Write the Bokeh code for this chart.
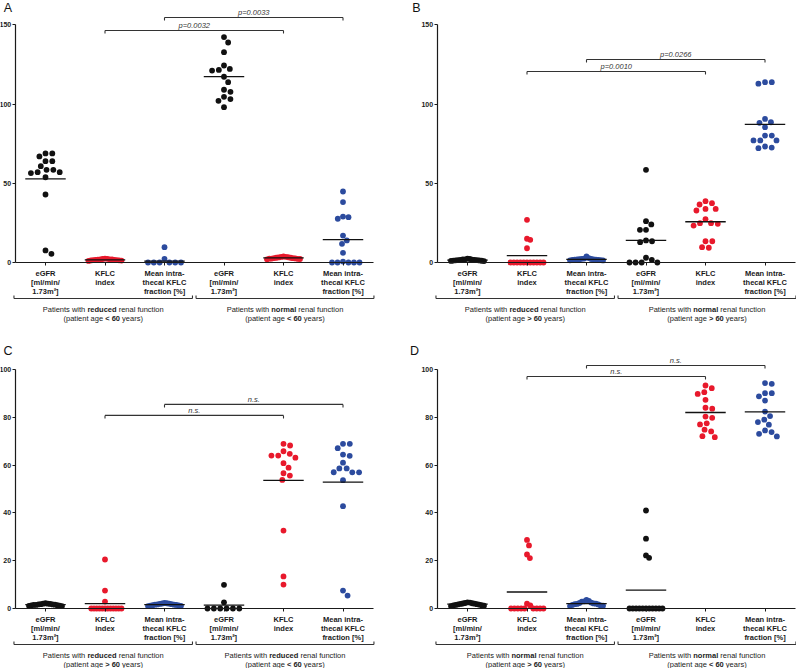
import math
from bokeh.plotting import figure
from bokeh.models import LinearAxis, FixedTicker, Range1d, ColumnDataSource
from bokeh.layouts import column, row
from bokeh.core.properties import value
from bokeh.embed import file_html
from bokeh.resources import INLINE

# ---------------- data ----------------
CATEGORY_LABELS = ["eGFR\n[ml/min/\n1.73m²]", "KFLC\nindex", "Mean intra-\nthecal KFLC\nfraction [%]"] * 2

# Panel A
A_egfr_1 = [68.8, 68.8, 66.9, 63.9, 63.9, 60.8, 58.5, 58.5, 57.0, 57.0, 56.4, 53.8, 42.9, 7.6, 5.5]
A_kflc_1 = [2.5, 2.3, 2.2, 2.0, 2.0, 1.9, 1.8, 1.7, 1.6, 1.5, 1.5, 1.4, 1.3, 1.2, 1.0]
A_frac_1 = [9.7, 2.3, 0, 0, 0, 0, 0, 0]
A_egfr_2 = [142.2, 138.8, 132.7, 124.3, 122.1, 121.5, 121.1, 117.2, 113.8, 109.0, 107.7, 104.5, 103.1, 102.0, 98.0]
A_kflc_2 = [3.8, 3.6, 3.5, 3.3, 3.2, 3.0, 3.0, 2.8, 2.7, 2.6, 2.5, 2.4, 2.3, 2.2, 2.0]
A_frac_2 = [44.8, 38.1, 29.0, 28.6, 27.6, 17.0, 13.9, 11.8, 6.1, 0.6, 0, 0, 0, 0, 0]
A_means = [52.7, 1.7, 0.9, 117.3, 2.9, 14.4]
A_groups = [("reduced", "< 60"), ("normal", "< 60")]
A_ptext = ["p=0.0032", "p=0.0033"]
A_py = [146.4, 154.6]

# Panel B
B_egfr_1 = [2.5, 2.2, 2.0, 1.9, 1.8, 1.7, 1.6, 1.5, 1.5, 1.4, 1.3, 1.2, 1.1, 1.0, 0.9]
B_kflc_1 = [26.9, 15.0, 14.3, 9.0, 0, 0, 0, 0, 0, 0, 0, 0, 0, 0, 0]
B_frac_1 = [3.8, 2.8, 2.5, 2.3, 2.2, 2.1, 2.0, 1.9, 1.8, 1.8, 1.7, 1.6, 1.5, 1.4, 1.3]
B_egfr_2 = [58.5, 26.1, 24.0, 20.6, 20.6, 13.9, 13.4, 12.8, 3.0, 1.7, 0, 0, 0, 0]
B_kflc_2 = [38.7, 37.4, 36.6, 33.8, 33.8, 32.8, 27.3, 24.8, 24.8, 24.4, 23.3, 13.4, 13.4, 9.7, 9.3]
B_frac_2 = [113.8, 113.8, 112.8, 90.6, 88.5, 88.1, 85.4, 80.1, 80.1, 77.0, 77.0, 77.0, 73.2, 72.5, 72.1]
B_means = [1.5, 4.4, 2.0, 13.9, 25.7, 87.1]
B_groups = [("reduced", "> 60"), ("normal", "> 60")]
B_ptext = ["p=0.0010", "p=0.0266"]
B_py = [120.5, 128.1]

# Panel C
C_egfr_1 = [2.2, 2.0, 2.0, 1.9, 1.8, 1.7, 1.7, 1.6, 1.5, 1.5, 1.4, 1.3, 1.2, 1.1, 1.0]
C_kflc_1 = [20.5, 7.5, 2.9, 0, 0, 0, 0, 0, 0, 0, 0, 0, 0, 0, 0]
C_frac_1 = [2.3, 2.2, 2.1, 2.0, 1.9, 1.8, 1.7, 1.6, 1.6, 1.5, 1.4, 1.3, 1.2, 1.1, 1.0]
C_egfr_2 = [9.9, 2.6, 0, 0, 0, 0, 0, 0]
C_kflc_2 = [68.9, 68.2, 65.8, 64.7, 64.0, 64.0, 63.1, 60.8, 58.9, 56.6, 55.6, 53.8, 32.6, 13.4, 10.0]
C_frac_2 = [68.9, 68.9, 67.1, 64.4, 63.9, 61.0, 58.6, 58.6, 57.0, 57.0, 57.0, 53.7, 42.8, 7.5, 5.4]
C_means = [1.6, 2.0, 1.6, 1.4, 53.6, 52.9]
C_groups = [("reduced", "> 60"), ("reduced", "< 60")]
C_ptext = ["n.s.", "n.s."]
C_py = [80.8, 85.4]

# Panel D
D_egfr_1 = [2.6, 2.5, 2.3, 2.2, 2.1, 2.0, 1.9, 1.8, 1.7, 1.6, 1.5, 1.4, 1.3, 1.2, 1.0]
D_kflc_1 = [28.7, 26.4, 22.6, 21.1, 2.0, 1.3, 0, 0, 0, 0, 0, 0, 0, 0, 0]
D_frac_1 = [3.6, 3.2, 3.0, 2.9, 2.5, 2.3, 2.1, 2.0, 1.9, 1.8, 1.7, 1.5, 1.3, 1.2, 1.0]
D_egfr_2 = [41.0, 29.2, 22.2, 21.2, 0, 0, 0, 0, 0, 0, 0, 0, 0, 0, 0]
D_kflc_2 = [93.3, 92.2, 90.5, 89.8, 87.3, 84.0, 83.6, 80.3, 79.8, 77.5, 77.0, 74.8, 74.1, 72.1, 71.7]
D_frac_2 = [94.3, 94.0, 90.1, 90.1, 88.8, 87.0, 82.4, 80.5, 79.0, 78.0, 76.9, 74.5, 73.8, 73.1, 72.0]
D_means = [1.8, 6.9, 2.0, 7.7, 82.0, 82.3]
D_groups = [("normal", "> 60"), ("normal", "< 60")]
D_ptext = ["n.s.", "n.s."]
D_py = [97.1, 101.7]

TICKS_AB = [0, 50, 100, 150]
TICKS_CD = [0, 20, 40, 60, 80, 100]

# ---------------- style ----------------
FONT = "Liberation Sans"
INK = "#1a1a1a"
COLS = ["#111111", "#e8192c", "#2c4b9e"] * 2
FS = 7.5
XSP = 59.5          # px per category
DOT = 5.8
SWARM_D = 6.8
SWARM_CAP = 16.5
AX0, AX1 = 0.49, 6.52

REG = {' ': 278, '(': 333, ')': 333, 'P': 667, 'a': 556, 'c': 500, 'e': 556, 'f': 278, 'g': 556,
       'h': 556, 'i': 222, 'l': 222, 'n': 556, 'o': 556, 'p': 556, 'r': 333, 's': 500, 't': 278,
       'u': 556, 'w': 722, 'y': 500}
BOLD = {' ': 278, '<': 584, '>': 584, '0': 556, '6': 556, 'a': 556, 'c': 556, 'd': 611, 'e': 556,
        'l': 278, 'm': 889, 'n': 611, 'o': 611, 'r': 389, 'u': 611}


def tw(s, table):
    return sum(table.get(ch, 556) for ch in s) * FS / 1000.0


def swarm(vals, ppu):
    order = sorted(range(len(vals)), key=lambda i: -vals[i])
    placed = []
    xs = [0.0] * len(vals)
    for i in order:
        y = vals[i] * ppu
        forb = []
        for (px, py) in placed:
            dy = abs(py - y)
            if dy < SWARM_D:
                h = math.sqrt(SWARM_D ** 2 - dy ** 2)
                forb.append((px - h, px + h))
        cands = [0.0] + [a for a, b in forb] + [b for a, b in forb]
        cands.sort(key=lambda c: (abs(c), -c))
        for c in cands:
            if all(not (a + 1e-6 < c < b - 1e-6) for a, b in forb):
                xs[i] = c
                break
        placed.append((xs[i], y))
    m = max(abs(v) for v in xs) if xs else 0
    if m > SWARM_CAP:
        xs = [v * SWARM_CAP / m for v in xs]
    return xs


def panel(letter, W, H, x0px, zero_px, ppu, yticks, series, means, groups, ptext, py, letter_px):
    xs0 = 1 - x0px / XSP
    xs1 = xs0 + W / XSP
    ys1 = zero_px / ppu
    ys0 = -(H - zero_px) / ppu
    p = figure(width=W, height=H, x_range=Range1d(xs0, xs1), y_range=Range1d(ys0, ys1),
               x_axis_type=None, y_axis_type=None, output_backend="svg",
               toolbar_location=None, min_border=0)
    p.outline_line_color = None

    yax = LinearAxis(fixed_location=AX0, bounds=(0, yticks[-1]),
                     ticker=FixedTicker(ticks=yticks, minor_ticks=[]))
    xax = LinearAxis(fixed_location=0, bounds=(AX0, AX1),
                     ticker=FixedTicker(ticks=[1, 2, 3, 4, 5, 6], minor_ticks=[]),
                     major_label_overrides={i + 1: lab for i, lab in enumerate(CATEGORY_LABELS)})
    for ax in (yax, xax):
        ax.axis_line_color = INK
        ax.axis_line_width = 1.2
        ax.major_tick_line_color = INK
        ax.major_tick_line_width = 1
        ax.major_tick_in = 0
        ax.major_tick_out = 3
        ax.major_label_text_font = FONT
        ax.major_label_text_font_style = "bold"
        ax.major_label_text_color = INK
    yax.major_label_text_font_size = "7px"
    yax.major_label_standoff = 1
    xax.major_label_text_font_size = f"{FS}px"
    xax.major_label_standoff = 3
    xax.major_label_text_line_height = 1.0
    p.add_layout(yax, "left")
    p.add_layout(xax, "below")

    # dots
    for k, vals in enumerate(series):
        offs = swarm(vals, ppu)
        p.scatter([k + 1 + o / XSP for o in offs], vals, size=DOT,
                  fill_color=COLS[k], line_color=None)
    # mean lines
    cats = [1, 2, 3, 4, 5, 6]
    p.segment(x0=[c - 0.34 for c in cats], x1=[c + 0.34 for c in cats], y0=means, y1=means,
              line_color="#111111", line_width=1.3)

    # significance brackets
    pairs = [(2, 5), (3, 6)]
    tick = 3.0 / ppu
    for (c1, c2), t, yv in zip(pairs, ptext, py):
        p.segment(x0=[c1, c1, c2], x1=[c2, c1, c2], y0=[yv, yv, yv], y1=[yv, yv - tick, yv - tick],
                  line_color="#333333", line_width=1.1)
        p.text(x=[(c1 + c2) / 2], y=[yv + 0.6 / ppu], text=[t], text_align="center",
               text_baseline="bottom", text_font=value(FONT), text_font_size=f"{FS}px",
               text_font_style="italic", text_color="#333333")

    # group brackets and captions
    yb = -36.0 / ppu
    up = 3.0 / ppu
    spans = [(0.47, 3.47), (3.53, 6.52)]
    for (a, b) in spans:
        p.segment(x0=[a, a, b], x1=[b, a, b], y0=[yb, yb, yb], y1=[yb, yb + up, yb + up],
                  line_color="#333333", line_width=1.1)
    reg = dict(x=[], y=[], t=[], xo=[])
    bold = dict(x=[], y=[], t=[], xo=[])
    for (a, b), (kind, age) in zip(spans, groups):
        cx = (a + b) / 2
        lines = [(-47.3 / ppu, [("Patients with ", False), (kind, True), (" renal function", False)]),
                 (-56.0 / ppu, [("(patient age ", False), (age, True), (" years)", False)])]
        for yl, segs in lines:
            total = sum(tw(s, BOLD if bd else REG) for s, bd in segs)
            pos = -total / 2
            for s, bd in segs:
                table = BOLD if bd else REG
                lead = len(s) - len(s.lstrip(' '))
                d = bold if bd else reg
                d["x"].append(cx); d["y"].append(yl); d["t"].append(s.strip())
                d["xo"].append(pos + tw(' ' * lead, table))
                pos += tw(s, table)
    for d, style in ((reg, "normal"), (bold, "bold")):
        p.text(x="x", y="y", text="t", x_offset="xo", source=ColumnDataSource(d),
               text_align="left", text_baseline="middle", text_font=value(FONT),
               text_font_size=f"{FS}px", text_font_style=style, text_color="#222222")

    # panel letter
    lx = xs0 + letter_px[0] / XSP
    ly = (zero_px - letter_px[1]) / ppu
    p.text(x=[lx], y=[ly], text=[letter], text_align="center", text_baseline="middle",
           text_font=value(FONT), text_font_size="12.5px", text_color="#111111")
    return p


pA = panel("A", 400, 334, 45, 262, 1.585, TICKS_AB,
           [A_egfr_1, A_kflc_1, A_frac_1, A_egfr_2, A_kflc_2, A_frac_2], A_means, A_groups,
           A_ptext, A_py, (7.5, 7))
pB = panel("B", 396, 334, 67, 262, 1.585, TICKS_AB,
           [B_egfr_1, B_kflc_1, B_frac_1, B_egfr_2, B_kflc_2, B_frac_2], B_means, B_groups,
           B_ptext, B_py, (16, 7))
pC = panel("C", 400, 334, 45, 274, 2.39, TICKS_CD,
           [C_egfr_1, C_kflc_1, C_frac_1, C_egfr_2, C_kflc_2, C_frac_2], C_means, C_groups,
           C_ptext, C_py, (7.5, 16.7))
pD = panel("D", 396, 334, 67, 274, 2.39, TICKS_CD,
           [D_egfr_1, D_kflc_1, D_frac_1, D_egfr_2, D_kflc_2, D_frac_2], D_means, D_groups,
           D_ptext, D_py, (14, 16.7))

layout = column(row(pA, pB), row(pC, pD))
open("out.html", "w").write(file_html(layout, INLINE))
